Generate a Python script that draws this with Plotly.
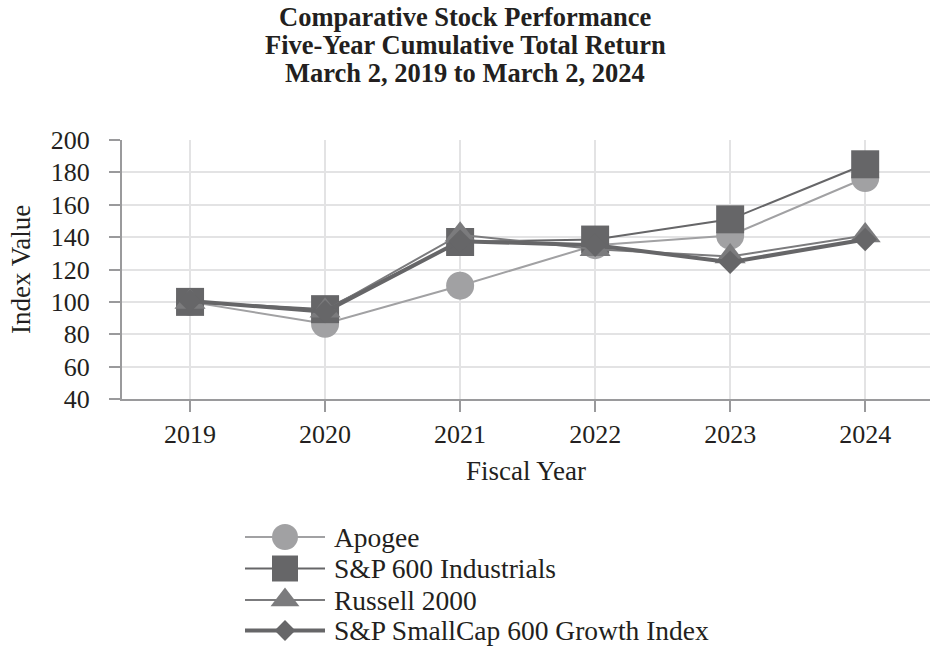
import plotly.graph_objects as go

# ---- data ----
years = [2019, 2020, 2021, 2022, 2023, 2024]
year_labels = ["2019", "2020", "2021", "2022", "2023", "2024"]
apogee = [100, 86.5, 110, 135, 141, 176.5]
sp600_industrials = [100, 95.5, 137, 138.5, 151, 185]
russell_2000 = [100, 94.5, 141.5, 132.5, 128, 141]
sp600_growth = [100.5, 94, 137.5, 135, 124.5, 138.5]
series_names = ["Apogee", "S&P 600 Industrials", "Russell 2000", "S&P SmallCap 600 Growth Index"]
y_ticks = [40, 60, 80, 100, 120, 140, 160, 180, 200]
title_lines = ["Comparative Stock Performance", "Five-Year Cumulative Total Return",
               "March 2, 2019 to March 2, 2024"]

FONT = "Liberation Serif"
TXT = "#231f20"
W, H = 930, 649


def px(x):  # window pixel -> paper x
    return x / W


def py(y):  # window pixel -> paper y
    return 1 - y / H


styles = [
    dict(symbol="circle", size=28, color="#a1a1a3", lcolor="#a1a1a3", lw=2),
    dict(symbol="square", size=28, color="#666668", lcolor="#666668", lw=2),
    dict(symbol="triangle-up", size=27, color="#7b7b7d", lcolor="#7b7b7d", lw=2),
    dict(symbol="diamond", size=18, color="#666668", lcolor="#666668", lw=4),
]
series_vals = [apogee, sp600_industrials, russell_2000, sp600_growth]

fig = go.Figure()
for name, vals, st in zip(series_names, series_vals, styles):
    fig.add_trace(go.Scatter(
        x=years, y=vals, name=name, mode="lines+markers",
        line=dict(color=st["lcolor"], width=st["lw"]),
        marker=dict(symbol=st["symbol"], size=st["size"], color=st["color"], line=dict(width=0)),
        showlegend=False, xaxis="x", yaxis="y", cliponaxis=False,
    ))

# custom legend drawn on a helper subplot whose units are window pixels
leg_rows = [537, 568.5, 600, 630.5]
leg_x0, leg_xm, leg_x1, leg_text_x = 245, 285, 325, 333
for name, st, ry in zip(series_names, styles, leg_rows):
    fig.add_trace(go.Scatter(
        x=[leg_x0, leg_x1], y=[ry, ry], mode="lines",
        line=dict(color=st["lcolor"], width=st["lw"]),
        showlegend=False, xaxis="x2", yaxis="y2", cliponaxis=False, hoverinfo="skip",
    ))
    fig.add_trace(go.Scatter(
        x=[leg_xm], y=[ry], mode="markers",
        marker=dict(symbol=st["symbol"], size=st["size"] - 2, color=st["color"], line=dict(width=0)),
        showlegend=False, xaxis="x2", yaxis="y2", cliponaxis=False, hoverinfo="skip",
    ))
    fig.add_annotation(x=leg_text_x, y=ry, xref="x2", yref="y2", text=name, showarrow=False,
                       xanchor="left", yanchor="middle", borderpad=0,
                       font=dict(family=FONT, size=27.5, color=TXT))

# title lines
for line, ty in zip(title_lines, [17, 45, 73]):
    fig.add_annotation(x=px(465), y=py(ty), xref="paper", yref="paper", text="<b>" + line + "</b>",
                       showarrow=False, xanchor="center", yanchor="middle",
                       font=dict(family=FONT, size=26.5, color=TXT))

axis_common = dict(
    showline=True, linecolor="#9a9a9c", linewidth=2,
    ticks="outside", ticklen=11, tickwidth=2, tickcolor="#9a9a9c",
    showgrid=True, gridcolor="#e3e3e4", gridwidth=2, zeroline=False,
    tickfont=dict(family=FONT, size=26, color=TXT),
)

fig.update_layout(
    width=W, height=H,
    margin=dict(l=0, r=0, t=0, b=0),
    paper_bgcolor="white", plot_bgcolor="rgba(0,0,0,0)",
    xaxis=dict(
        domain=[px(122), 1], range=[2018.496, 2024.48],
        tickvals=years, ticktext=year_labels,
        title=dict(text="Fiscal Year", font=dict(family=FONT, size=27, color=TXT), standoff=13),
        automargin=False, anchor="y", **axis_common,
    ),
    yaxis=dict(
        domain=[py(399), py(140)], range=[40, 200],
        tickvals=y_ticks, ticklabelstandoff=14,
        title=dict(text="Index Value", font=dict(family=FONT, size=27, color=TXT), standoff=12),
        automargin=False, anchor="x", **axis_common,
    ),
    xaxis2=dict(domain=[0, 1], range=[0, W], visible=False, fixedrange=True, anchor="y2"),
    yaxis2=dict(domain=[0, py(510)], range=[H, 510], visible=False, fixedrange=True, anchor="x2"),
)

fig.write_html(
    "out.html",
    config={"displayModeBar": False},
    post_script="document.body.style.margin='0';document.body.style.overflow='hidden';",
)
